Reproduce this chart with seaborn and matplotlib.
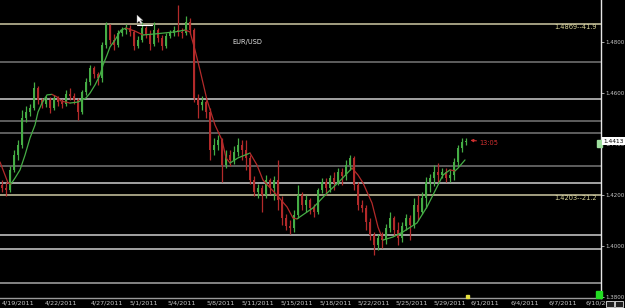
import numpy as np
import pandas as pd
import matplotlib
matplotlib.use("Agg")
import matplotlib.pyplot as plt
from matplotlib.patches import Rectangle, Polygon
import seaborn as sns

# ---------------- data ----------------
symbol = "EUR/USD"
open_first = 1.4240
closes = [
    1.4228, 1.4220, 1.4299, 1.4357, 1.4397, 1.4502, 1.4526, 1.4542, 1.4620, 1.4573,
    1.4557, 1.4573, 1.4542, 1.4581, 1.4565, 1.4557, 1.4597, 1.4589, 1.4573, 1.4526,
    1.4604, 1.4644, 1.4698, 1.4675, 1.4659, 1.4789, 1.4867, 1.4808, 1.4789, 1.4836,
    1.4847, 1.4855, 1.4840, 1.4785, 1.4808, 1.4855, 1.4832, 1.4793, 1.4847, 1.4816,
    1.4785, 1.4824, 1.4836, 1.4847, 1.4840, 1.4836, 1.4879, 1.4847, 1.4581, 1.4553,
    1.4565, 1.4526, 1.4377, 1.4397, 1.4416, 1.4318, 1.4357, 1.4338, 1.4369, 1.4397,
    1.4377, 1.4346, 1.4259, 1.4212, 1.4228, 1.4201, 1.4259, 1.4228, 1.4259, 1.4181,
    1.4110, 1.4079, 1.4071, 1.4122, 1.4201, 1.4161, 1.4181, 1.4150, 1.4134, 1.4220,
    1.4252, 1.4228, 1.4267, 1.4248, 1.4291, 1.4275, 1.4318, 1.4346, 1.4240, 1.4161,
    1.4150, 1.4095, 1.4044, 1.4005, 1.4032, 1.4024, 1.4071, 1.4110, 1.4063, 1.4032,
    1.4079, 1.4110, 1.4083, 1.4161, 1.4134, 1.4189, 1.4252, 1.4267, 1.4291, 1.4279,
    1.4291, 1.4267, 1.4279, 1.4330, 1.4385, 1.4408, 1.4413]
highs = [
    1.4259, 1.4252, 1.4314, 1.4377, 1.4416, 1.4534, 1.4550, 1.4557, 1.4644, 1.4628,
    1.4581, 1.4589, 1.4585, 1.4593, 1.4589, 1.4577, 1.4612, 1.4620, 1.4600, 1.4581,
    1.4612, 1.4659, 1.4710, 1.4706, 1.4683, 1.4800, 1.4879, 1.4871, 1.4832, 1.4847,
    1.4859, 1.4871, 1.4867, 1.4847, 1.4824, 1.4879, 1.4863, 1.4847, 1.4879, 1.4855,
    1.4828, 1.4836, 1.4847, 1.4863, 1.4945, 1.4855, 1.4902, 1.4894, 1.4855, 1.4597,
    1.4589, 1.4573, 1.4542, 1.4424, 1.4436, 1.4424, 1.4377, 1.4377, 1.4393, 1.4424,
    1.4416, 1.4416, 1.4357, 1.4275, 1.4244, 1.4240, 1.4279, 1.4267, 1.4275, 1.4338,
    1.4197, 1.4126, 1.4103, 1.4142, 1.4240, 1.4212, 1.4201, 1.4189, 1.4165, 1.4228,
    1.4267, 1.4267, 1.4279, 1.4291, 1.4306, 1.4306, 1.4338, 1.4357, 1.4353, 1.4252,
    1.4181, 1.4161, 1.4110, 1.4056, 1.4048, 1.4056, 1.4087, 1.4134, 1.4118, 1.4095,
    1.4095, 1.4126, 1.4122, 1.4189, 1.4201, 1.4212, 1.4271, 1.4283, 1.4318, 1.4326,
    1.4306, 1.4306, 1.4299, 1.4346, 1.4397, 1.4424, 1.4424]
lows = [
    1.4212, 1.4197, 1.4212, 1.4291, 1.4338, 1.4385, 1.4487, 1.4510, 1.4534, 1.4557,
    1.4542, 1.4546, 1.4522, 1.4534, 1.4550, 1.4542, 1.4550, 1.4573, 1.4557, 1.4495,
    1.4518, 1.4593, 1.4632, 1.4659, 1.4632, 1.4644, 1.4777, 1.4793, 1.4769, 1.4781,
    1.4824, 1.4832, 1.4824, 1.4769, 1.4777, 1.4800, 1.4816, 1.4769, 1.4785, 1.4800,
    1.4769, 1.4777, 1.4816, 1.4824, 1.4824, 1.4816, 1.4828, 1.4832, 1.4565, 1.4502,
    1.4534, 1.4502, 1.4338, 1.4357, 1.4377, 1.4252, 1.4306, 1.4314, 1.4322, 1.4353,
    1.4338, 1.4299, 1.4244, 1.4197, 1.4189, 1.4134, 1.4189, 1.4205, 1.4181, 1.4142,
    1.4083, 1.4063, 1.4048, 1.4056, 1.4110, 1.4142, 1.4134, 1.4126, 1.4114, 1.4126,
    1.4208, 1.4201, 1.4212, 1.4220, 1.4240, 1.4240, 1.4259, 1.4299, 1.4220, 1.4142,
    1.4134, 1.4063, 1.4024, 1.3965, 1.3985, 1.3993, 1.4008, 1.4056, 1.4040, 1.4005,
    1.4016, 1.4063, 1.4024, 1.4071, 1.4103, 1.4126, 1.4150, 1.4212, 1.4236, 1.4252,
    1.4267, 1.4252, 1.4252, 1.4259, 1.4314, 1.4369, 1.4397]

ma_pos = [-0.5, 1.5, 2.25, 3.25, 4.5, 5.75, 7, 8.25, 9, 10, 11.25, 12.5, 13.75, 14.75,
          17, 19, 21, 22, 23.25, 24.5, 25.25, 26.25, 27, 28.25, 29.75, 31, 33.25, 35.25,
          38.25, 40.75, 43.25, 45.75, 47, 48.25, 49.5, 51.25, 53.25, 55, 56, 57, 59, 62,
          63.75, 65.25, 68.25, 71.25, 72.75, 73.75, 77.75, 81.25, 84.5, 87.5, 89, 90.25,
          92.5, 94, 95.25, 97.75, 100.25, 103.75, 106.25, 108.75, 110.25, 112, 113.25,
          114, 115.75]
ma_val = [1.4330, 1.4248, 1.4244, 1.4267, 1.4299, 1.4357, 1.4424, 1.4475, 1.4526, 1.4561,
          1.4593, 1.4595, 1.4585, 1.4569, 1.4561, 1.4565, 1.4581, 1.4600, 1.4632, 1.4671,
          1.4710, 1.4749, 1.4781, 1.4808, 1.4847, 1.4855, 1.4843, 1.4828, 1.4832, 1.4836,
          1.4840, 1.4847, 1.4840, 1.4769, 1.4690, 1.4573, 1.4475, 1.4416, 1.4346, 1.4326,
          1.4346, 1.4365, 1.4318, 1.4259, 1.4208, 1.4154, 1.4110, 1.4107, 1.4150, 1.4208,
          1.4256, 1.4306, 1.4279, 1.4248, 1.4169, 1.4075, 1.4024, 1.4036, 1.4056, 1.4091,
          1.4154, 1.4232, 1.4279, 1.4299, 1.4295, 1.4306, 1.4338]

levels = [1.4871, 1.4720, 1.4576, 1.4491, 1.4444, 1.4314, 1.4247, 1.4201, 1.4043, 1.3988, 1.3857]
level_kind = ["mark", "gray", "white", "gray", "gray", "gray", "white", "mark", "white", "white", "pale"]
level_labels = {0: "1.4869--41.9", 7: "1.4203--21.2"}

price_ticks = [1.38, 1.40, 1.42, 1.44, 1.46, 1.48]
last_price = "1.4413"
last_time = "13:05"

date_labels = ["4/19/2011", "4/22/2011", "4/27/2011", "5/1/2011", "5/4/2011", "5/8/2011",
               "5/11/2011", "5/15/2011", "5/18/2011", "5/22/2011", "5/25/2011", "5/29/2011",
               "6/1/2011", "6/4/2011", "6/7/2011"]
date_pos = [4, 14.75, 26.25, 35.5, 45, 54.75, 64, 73.75, 83.5, 93, 102.5, 112,
            120.75, 130.75, 140.25]
last_date_label = "6/10/2011"

# ---------------- styling ----------------
sns.set_style("dark", {"axes.facecolor": "black", "figure.facecolor": "black"})
plt.rcParams["font.family"] = ["DejaVu Sans"]

UP = "#45ad45"
DN = "#b32a2a"
W, H = 625, 308

fig = plt.figure(figsize=(W / 100, H / 100), dpi=100, facecolor="black")
ax = fig.add_axes([0, 10 / H, 601 / W, 298 / H])
ax.set_facecolor("black")

level_colors = {"mark": "#cfcaa4", "gray": "#777777", "white": "#cfcfcf", "pale": "#a8a8a8"}
for lv, kind in zip(levels, level_kind):
    ax.axhline(lv, color=level_colors[kind], lw=1.1, zorder=1)

df = pd.DataFrame({"c": closes, "h": highs, "l": lows})
df["o"] = [open_first] + closes[:-1]
df["i"] = np.arange(len(df))
up = df["c"] >= df["o"]
cols = np.where(up, UP, DN)

ax.vlines(df["i"], df["l"], df["h"], colors=cols, lw=0.9, zorder=3)
body_lo = np.minimum(df["o"], df["c"])
body_h = np.maximum(np.abs(df["c"] - df["o"]), 0.0003)
ax.bar(df["i"], body_h, bottom=body_lo, width=0.55, color=cols, linewidth=0, zorder=3)

# moving-average line, coloured by direction
ma = pd.DataFrame({"x": ma_pos, "y": ma_val})
rising = np.diff(ma["y"].values) >= 0
start = 0
for k in range(1, len(rising) + 1):
    if k == len(rising) or rising[k] != rising[start]:
        seg = ma.iloc[start:k + 1]
        sns.lineplot(data=seg, x="x", y="y", color=UP if rising[start] else DN,
                     lw=0.9, ax=ax, sort=False, estimator=None, zorder=4)
        start = k

ax.set_xlim(-0.5, 149.75)
ax.set_ylim(1.37968, 1.4965)
ax.set_xlabel("")
ax.set_ylabel("")
ax.grid(False)

for s in ["top", "left"]:
    ax.spines[s].set_visible(False)
ax.spines["right"].set_visible(True)
ax.spines["right"].set_color("#e6e6e6")
ax.spines["right"].set_linewidth(1.0)
ax.spines["bottom"].set_visible(True)
ax.spines["bottom"].set_color("#9a9a9a")
ax.spines["bottom"].set_linewidth(1.0)

ax.yaxis.tick_right()
ax.set_yticks(price_ticks)
ax.set_yticklabels([f"{t:.4f}" for t in price_ticks])
ax.tick_params(axis="y", colors="#c8c8c8", labelsize=4.0, length=2.0, width=0.6, pad=0.8)
ax.set_xticks(date_pos)
ax.set_xticklabels(date_labels)
ax.tick_params(axis="x", colors="#c8c8c8", labelsize=4.6, length=0, pad=2)
fig.text(602 / W, 1 - 303 / H, last_date_label, color="#c8c8c8", fontsize=4.6,
         ha="center", va="center")

# texts
ax.text(61.25, 1.4800, symbol, color="#e8e8e8", fontsize=4.8, ha="center", va="center")
for idx, lab in level_labels.items():
    ax.text(148.75, levels[idx] - 0.0012, lab, color="#d9d49a", fontsize=4.8,
            ha="right", va="center")

ax.annotate("", xy=(116.4, 1.4416), xytext=(119.3, 1.4412),
            arrowprops=dict(arrowstyle="-|>", color="#d23030", lw=0.8,
                            mutation_scale=4), zorder=6)
ax.text(119.4, 1.4405, last_time, color="#d23030", fontsize=4.8, ha="left", va="center")

# last price box on the axis (it covers the 1.4400 tick label, as in the original)
fig.text(614 / W, 1 - 141 / H, last_price, color="black", fontsize=4.2, ha="center",
         va="center", bbox=dict(boxstyle="square,pad=0.25", fc="white", ec="none"), zorder=10)
fig.add_artist(Rectangle((597 / W, 1 - 147 / H), 5 / W, 7 / H, transform=fig.transFigure,
                         color="#9fe09f", zorder=10))
fig.add_artist(Rectangle((596 / W, 1 - 298 / H), 6 / W, 7 / H, transform=fig.transFigure,
                         color="#22dd22", zorder=10))
fig.add_artist(Rectangle((466 / W, 1 - 298 / H), 3 / W, 3 / H, transform=fig.transFigure,
                         color="#e6e040", zorder=10))
for x0 in (606, 615):
    fig.add_artist(Rectangle((x0 / W, 1 - 307 / H), 8 / W, 6 / H, transform=fig.transFigure,
                             fc="#202020", ec="#e0e0e0", lw=0.6, zorder=10))

# mouse pointer
pts = [(137, 15), (137, 23), (139, 21), (141, 24), (142.5, 23.2), (140.5, 20.5), (143, 20.5)]
fig.add_artist(Polygon([(x / W, 1 - y / H) for x, y in pts], closed=True,
                       transform=fig.transFigure, fc="white", ec="#888888", lw=0.3, zorder=10))
ax.plot([33.75, 37.5], [1.4867, 1.4867], color="white", lw=0.8, zorder=5)

fig.savefig("out.png", dpi=100, facecolor="black")
